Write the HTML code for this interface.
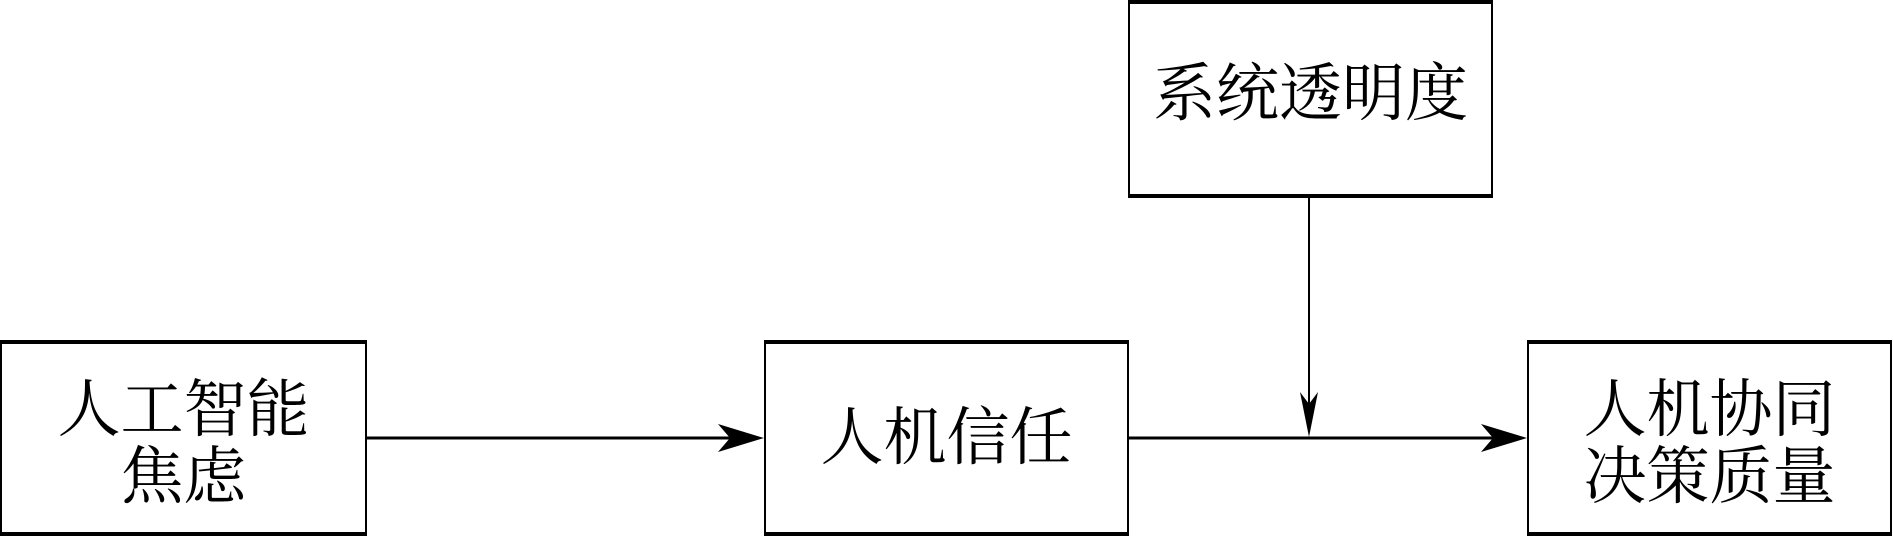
<!DOCTYPE html>
<html><head><meta charset="utf-8"><style>
html,body{margin:0;padding:0;background:#fff;}
body{width:1893px;height:538px;position:relative;overflow:hidden;font-family:"Liberation Serif","Noto Serif CJK SC",serif;}
.b{position:absolute;box-sizing:border-box;border:2px solid #000;border-top-width:4px;border-bottom-width:4px;display:flex;align-items:center;justify-content:center;text-align:center;font-size:63px;line-height:67px;color:#000;}
</style></head><body>
<div class="b" style="left:0;top:340px;width:367px;height:196px;padding-top:12px;">人工智能<br>焦虑</div>
<div class="b" style="left:764px;top:340px;width:365px;height:196px;">人机信任</div>
<div class="b" style="left:1527px;top:340px;width:365px;height:196px;padding-top:12px;">人机协同<br>决策质量</div>
<div class="b" style="left:1128px;top:0px;width:365px;height:198px;padding-bottom:10px;">系统透明度</div>
<svg width="1893" height="538" style="position:absolute;left:0;top:0">
<line x1="366" y1="438" x2="745" y2="438" stroke="#000" stroke-width="3"/>
<polygon points="764,438 718,424 730,438 718,452" fill="#000"/>
<line x1="1128" y1="438" x2="1508" y2="438" stroke="#000" stroke-width="3"/>
<polygon points="1527,438 1481,424 1493,438 1481,452" fill="#000"/>
<line x1="1309" y1="196" x2="1309" y2="420" stroke="#000" stroke-width="2"/>
<polygon points="1309,437 1300,392 1309,404 1318,392" fill="#000"/>
</svg>
</body></html>
